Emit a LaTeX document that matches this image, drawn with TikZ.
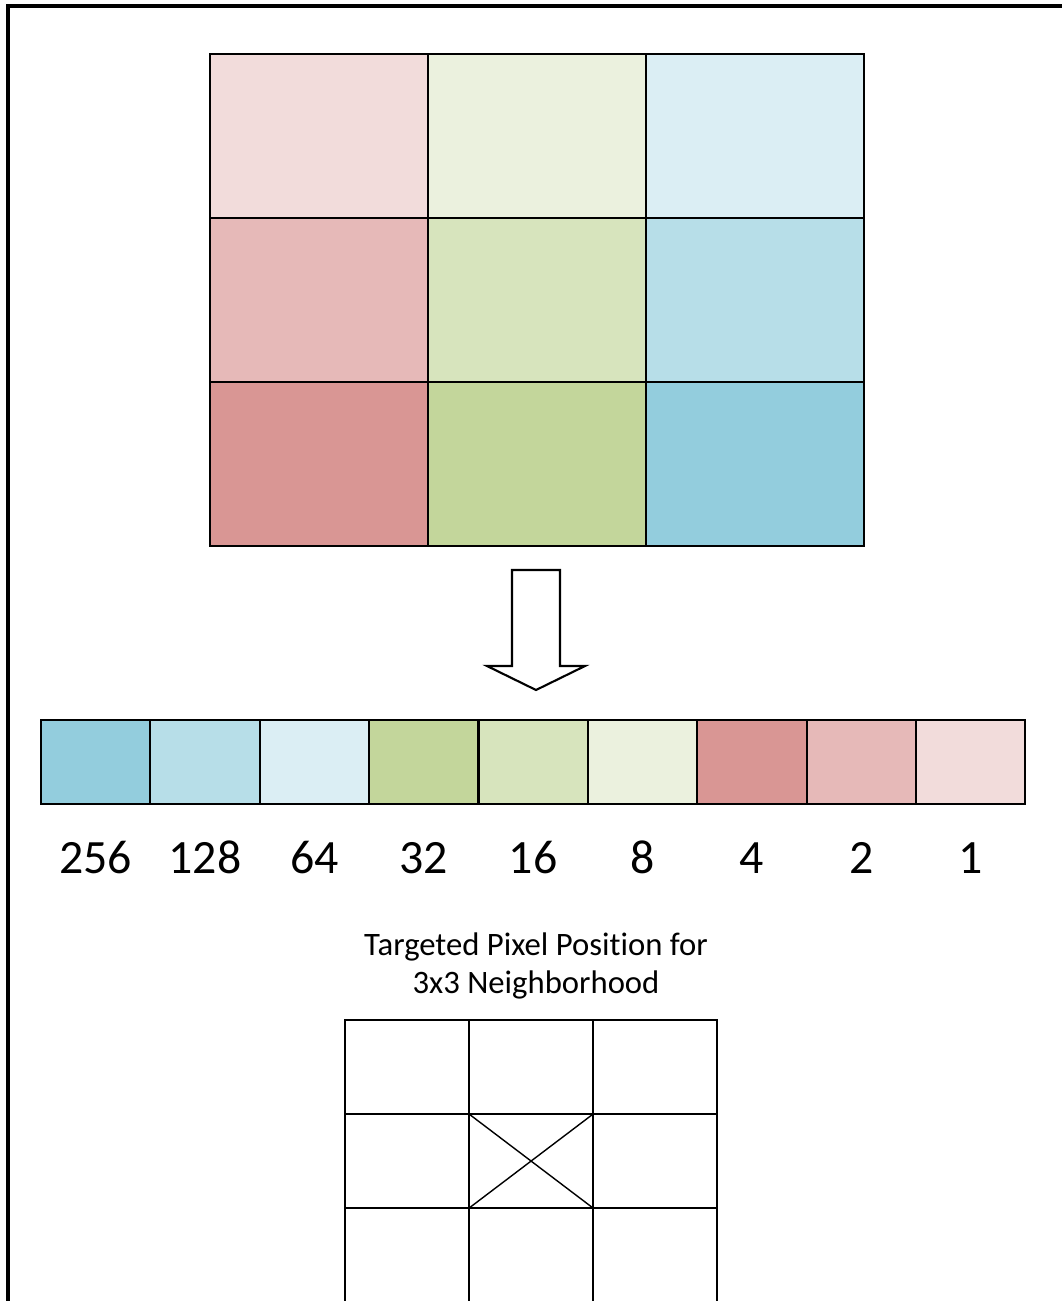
\documentclass[tikz,border=0pt]{standalone}
\usepackage{fontspec}
\setmainfont{Carlito}[RawFeature={-liga;-calt;-clig}]
\usetikzlibrary{positioning}

\definecolor{redA}{HTML}{F2DCDB}
\definecolor{redB}{HTML}{E6B9B8}
\definecolor{redC}{HTML}{D99694}
\definecolor{greenA}{HTML}{EBF1DE}
\definecolor{greenB}{HTML}{D7E4BD}
\definecolor{greenC}{HTML}{C3D69B}
\definecolor{blueA}{HTML}{DBEEF4}
\definecolor{blueB}{HTML}{B7DEE8}
\definecolor{blueC}{HTML}{93CDDD}

\begin{document}
\begin{tikzpicture}
	[x=0.01cm, y=-0.01cm, line width=0.6pt,
	cell/.style = {draw, inner sep=0pt, outer sep=0pt},
	big/.style = {cell, minimum width=2.18cm, minimum height=1.64cm},
	bit/.style = {cell, minimum width=1.093cm, minimum height=0.84cm},
	small/.style = {cell, minimum width=1.24cm, minimum height=0.94cm},
	weight/.style = {anchor=base, font=\fontsize{13.6}{16}\selectfont}]
	\useasboundingbox (0,0) rectangle (1061,1301);
	\draw[line width=0.9pt] (8,1400) -- (8,6) -- (1200,6);
	% 3x3 colour block
	\node[big, fill=redA] (t1) at (319,136) {};
	\node[big, fill=greenA] (t2) [right = 0pt of t1] {};
	\node[big, fill=blueA] (t3) [right = 0pt of t2] {};
	\node[big, fill=redB] (t4) [below = 0pt of t1] {};
	\node[big, fill=greenB] (t5) [right = 0pt of t4] {};
	\node[big, fill=blueB] (t6) [right = 0pt of t5] {};
	\node[big, fill=redC] (t7) [below = 0pt of t4] {};
	\node[big, fill=greenC] (t8) [right = 0pt of t7] {};
	\node[big, fill=blueC] (t9) [right = 0pt of t8] {};
	% block arrow
	\draw[fill=white] (512,570) -- (560,570) -- (560,666) -- (585,666) -- (536,690)
		-- (487,666) -- (512,666) -- cycle;
	% bit row
	\node[bit, fill=blueC] (b1) at (95.7,762) {};
	\node[bit, fill=blueB] (b2) [right = 0pt of b1] {};
	\node[bit, fill=blueA] (b3) [right = 0pt of b2] {};
	\node[bit, fill=greenC] (b4) [right = 0pt of b3] {};
	\node[bit, fill=greenB] (b5) [right = 0pt of b4] {};
	\node[bit, fill=greenA] (b6) [right = 0pt of b5] {};
	\node[bit, fill=redC] (b7) [right = 0pt of b6] {};
	\node[bit, fill=redB] (b8) [right = 0pt of b7] {};
	\node[bit, fill=redA] (b9) [right = 0pt of b8] {};
	\node[weight] (w1) at ([yshift=-0.69cm]b1.south) {256};
	\node[weight] (w2) at ([yshift=-0.69cm]b2.south) {128};
	\node[weight] (w3) at ([yshift=-0.69cm]b3.south) {64};
	\node[weight] (w4) at ([yshift=-0.69cm]b4.south) {32};
	\node[weight] (w5) at ([yshift=-0.69cm]b5.south) {16};
	\node[weight] (w6) at ([yshift=-0.69cm]b6.south) {8};
	\node[weight] (w7) at ([yshift=-0.69cm]b7.south) {4};
	\node[weight] (w8) at ([yshift=-0.69cm]b8.south) {2};
	\node[weight] (w9) at ([yshift=-0.69cm]b9.south) {1};
	% neighbourhood
	\node[align=center, font=\fontsize{9.3}{11}\selectfont] (caption) at (536,966)
		{Targeted Pixel Position for\\3x3 Neighborhood};
	\node[small] (g1) at (407,1067) {};
	\node[small] (g2) [right = 0pt of g1] {};
	\node[small] (g3) [right = 0pt of g2] {};
	\node[small] (g4) [below = 0pt of g1] {};
	\node[small] (g5) [right = 0pt of g4] {};
	\node[small] (g6) [right = 0pt of g5] {};
	\node[small] (g7) [below = 0pt of g4] {};
	\node[small] (g8) [right = 0pt of g7] {};
	\node[small] (g9) [right = 0pt of g8] {};
	\draw[line width=0.4pt] (g5.north west) -- (g5.south east);
	\draw[line width=0.4pt] (g5.south west) -- (g5.north east);
\end{tikzpicture}
\end{document}
